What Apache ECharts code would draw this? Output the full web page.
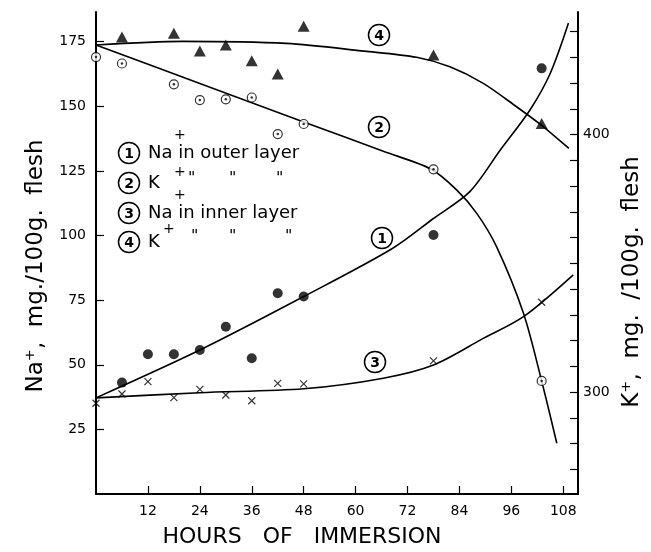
<!DOCTYPE html>
<html>
<head>
<meta charset="utf-8">
<script src="https://cdn.jsdelivr.net/npm/echarts@6/dist/echarts.min.js"></script>
<style>html,body{margin:0;padding:0;background:#fff}#c{width:651px;height:552px}</style>
</head>
<body>
<div id="c"></div>
<script>
// ---- data ----
const xTicks = [12, 24, 36, 48, 60, 72, 84, 96, 108];
const leftTicks = [25, 50, 75, 100, 125, 150, 175];
const rightTicks = [270, 280, 290, 300, 310, 320, 330, 340, 350, 360, 370, 380, 390, 400, 410, 420, 430, 440];
const rightLabels = [300, 400];

// (1) Na+ outer layer, filled circles (left axis)
const naOuterHours = [6, 12, 18, 24, 30, 36, 42, 48, 78, 103];
const naOuter = [43.1, 54.1, 54.1, 55.7, 64.7, 52.5, 77.7, 76.4, 100.2, 164.7];
// (2) K+ outer layer, dotted circles (right axis)
const kOuterHours = [0, 6, 18, 24, 30, 36, 42, 48, 78, 103];
const kOuter = [430.1, 427.6, 419.5, 413.4, 413.7, 414.4, 400.2, 404.1, 386.5, 304.3];
// (3) Na+ inner layer, crosses (left axis)
const naInnerHours = [0, 6, 12, 18, 24, 30, 36, 42, 48, 78, 103];
const naInner = [35.1, 38.7, 43.5, 37.3, 40.5, 38.3, 36.1, 42.8, 42.6, 51.5, 74.2];
// (4) K+ inner layer, triangles (right axis)
const kInnerHours = [6, 18, 24, 30, 36, 42, 48, 78, 103];
const kInner = [437.9, 439.3, 432.5, 434.8, 428.7, 423.5, 442.1, 430.9, 404.3];

// hand-drawn fitted curves
const curve1Hours = [0, 24, 48, 68.6, 78, 86.4, 93.4, 100.3, 105, 109.2];
const curve1 = [37.2, 55.7, 76.4, 95.1, 106.6, 117, 133, 148.6, 162.8, 182.2];
const curve2Hours = [0, 24, 48, 66.4, 77.4, 83.4, 88, 92.6, 98.8, 103, 106.5];
const curve2 = [434.8, 419.8, 404.9, 393.5, 386.6, 378.4, 369.4, 356.4, 330.6, 304.3, 280.1];
const curve3Hours = [0, 24, 48, 66.4, 78, 89.5, 98.8, 110.3];
const curve3 = [37.2, 39.2, 40.7, 44.8, 49.9, 60.2, 68.6, 84.8];
const curve4Hours = [0, 20, 44, 62, 74.1, 81.8, 89.5, 97.2, 103.2, 109.3];
const curve4 = [434.8, 436.2, 435.4, 432.4, 430.0, 426.3, 419.9, 410.8, 403.3, 394.6];

const pair = (xs, ys) => xs.map((x, i) => [x, ys[i]]);

const FONT = 'DejaVu Sans';
const chart = echarts.init(document.getElementById('c'), null, {renderer: 'canvas'});

function circled(x, y, n) {
  return {
    type: 'group', x: x, y: y, z: 100,
    children: [
      {type: 'circle', shape: {cx: 0, cy: 0, r: 10.5}, style: {fill: '#fff', stroke: '#000', lineWidth: 1.5}},
      {type: 'text', style: {text: String(n), x: 0, y: 1, align: 'center', verticalAlign: 'middle', textAlign: 'center', textVerticalAlign: 'middle', font: 'bold 14px "' + FONT + '"', fill: '#000'}}
    ]
  };
}
function txt(x, y, s, size, opts) {
  opts = opts || {};
  const el = {
    type: 'text', x: x, y: y, z: 100,
    style: {text: s, x: 0, y: 0, align: opts.align || 'left', verticalAlign: 'middle', textAlign: opts.align || 'left', textVerticalAlign: 'middle', font: size + 'px "' + FONT + '"', fill: '#000'}
  };
  if (opts.rotation) el.rotation = opts.rotation;
  return el;
}

const lineStyle = {color: '#000', width: 1.6};
const lineSeries = (data, yIdx) => ({
  type: 'line', data: data, yAxisIndex: yIdx, smooth: 0.3,
  showSymbol: false, symbol: 'none', lineStyle: lineStyle, silent: true, z: 2
});

chart.setOption({
  animation: false,
  backgroundColor: '#fff',
  grid: {left: 96, right: 73, top: 12, bottom: 58},
  xAxis: {
    type: 'value', min: 0, max: 111.4,
    axisLine: {lineStyle: {color: '#000', width: 2}},
    axisTick: {inside: true, length: 8, lineStyle: {color: '#000', width: 1.2}, customValues: xTicks},
    axisLabel: {customValues: xTicks, color: '#000', fontFamily: FONT, fontSize: 14, margin: 10},
    splitLine: {show: false}
  },
  yAxis: [
    {
      type: 'value', min: 0, max: 186.5, position: 'left',
      axisLine: {show: true, lineStyle: {color: '#000', width: 2}},
      axisTick: {show: true, inside: true, length: 8, lineStyle: {color: '#000', width: 1.2}, customValues: leftTicks},
      axisLabel: {customValues: leftTicks, color: '#000', fontFamily: FONT, fontSize: 14, margin: 10},
      splitLine: {show: false}
    },
    {
      type: 'value', min: 260.4, max: 447.6, position: 'right',
      axisLine: {show: true, lineStyle: {color: '#000', width: 2}},
      axisTick: {show: true, inside: true, length: 8, lineStyle: {color: '#000', width: 1.2}, customValues: rightTicks},
      axisLabel: {customValues: rightLabels, color: '#000', fontFamily: FONT, fontSize: 14, margin: 5},
      splitLine: {show: false}
    }
  ],
  series: [
    lineSeries(pair(curve1Hours, curve1), 0),
    lineSeries(pair(curve2Hours, curve2), 1),
    lineSeries(pair(curve3Hours, curve3), 0),
    lineSeries(pair(curve4Hours, curve4), 1),
    {type: 'scatter', yAxisIndex: 0, data: pair(naOuterHours, naOuter), symbol: 'circle', symbolSize: 10, itemStyle: {color: '#000'}, z: 5},
    {type: 'scatter', yAxisIndex: 1, data: pair(kOuterHours, kOuter), symbol: 'circle', symbolSize: 9, itemStyle: {color: '#fff', borderColor: '#000', borderWidth: 1.2}, z: 5},
    {type: 'scatter', yAxisIndex: 1, data: pair(kOuterHours, kOuter), symbol: 'circle', symbolSize: 2.5, itemStyle: {color: '#000'}, z: 6},
    {type: 'scatter', yAxisIndex: 0, data: pair(naInnerHours, naInner), symbol: 'path://M0,0L10,10M10,0L0,10', symbolSize: 7, itemStyle: {color: 'none', borderColor: '#000', borderWidth: 1.2}, z: 5},
    {type: 'scatter', yAxisIndex: 1, data: pair(kInnerHours, kInner), symbol: 'triangle', symbolSize: [12, 11], itemStyle: {color: '#000'}, z: 5}
  ],
  graphic: [
    // axis titles
    txt(36, 266, 'Na\u207A,  mg./100g.  flesh', 23, {align: 'center', rotation: Math.PI / 2}),
    txt(632, 282, 'K\u207A,  mg.  /100g.  flesh', 23, {align: 'center', rotation: Math.PI / 2}),
    txt(302, 537, 'HOURS   OF   IMMERSION', 22, {align: 'center'}),
    // legend block
    circled(129, 153, 1), txt(148, 153, 'Na in outer layer', 18), txt(174, 135, '+', 14),
    circled(129, 183, 2), txt(148, 183, 'K', 18), txt(174, 172, '+', 14), txt(174, 195, '+', 14),
    txt(188, 179, '"', 16), txt(229, 179, '"', 16), txt(276, 179, '"', 16),
    circled(129, 213, 3), txt(148, 213, 'Na in inner layer', 18),
    circled(129, 242, 4), txt(148, 242, 'K', 18), txt(163, 229, '+', 14),
    txt(191, 237, '"', 16), txt(229, 237, '"', 16), txt(285, 237, '"', 16),
    // curve labels
    circled(379, 35, 4), circled(379, 127, 2), circled(382, 238, 1), circled(375, 362, 3)
  ]
});
</script>
</body>
</html>
